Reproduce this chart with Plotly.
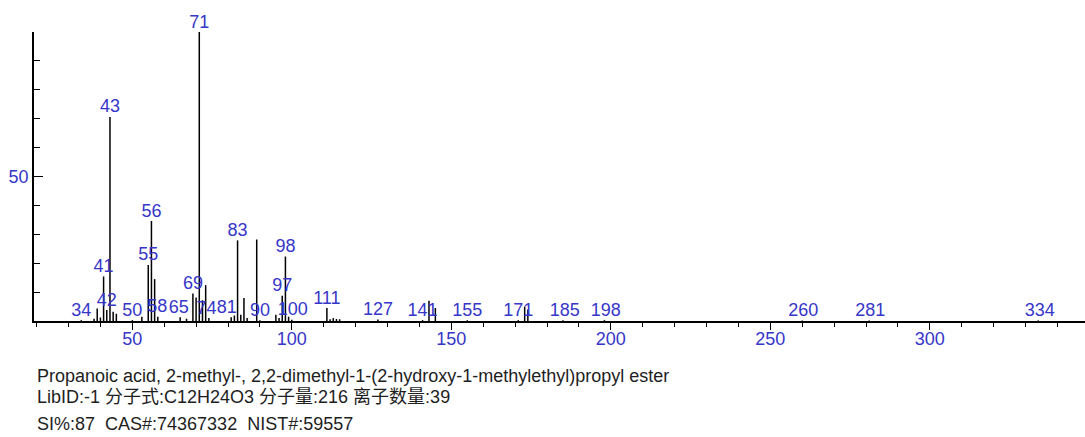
import plotly.graph_objects as go

# m/z values and relative intensities (%)
mz = [38, 39, 40, 41, 42, 43, 44, 45,
      50, 53, 55, 56, 57, 58, 65, 67,
      69, 70, 71, 72, 73, 74,
      81, 82, 83, 84, 85, 86, 89, 90,
      95, 96, 97, 98, 99, 100,
      111, 112, 113, 114, 115, 127,
      141, 143, 145, 155, 171, 173, 174,
      185, 198, 260, 281, 334, 34]
intensity = [0.8, 4.3, 1.2, 15.4, 3.8, 70.6, 3.2, 2.5,
             0.3, 1.5, 19.4, 34.6, 14.5, 1.5, 1.3, 0.8,
             9.5, 8.1, 100, 7.2, 12.4, 1.0,
             1.3, 1.9, 27.9, 2.2, 8.0, 1.0, 28.2, 0.3,
             2.2, 1.0, 8.7, 22.3, 1.5, 0.4,
             4.5, 0.6, 1.0, 0.7, 0.6, 0.5,
             0.3, 7.0, 4.5, 0.3, 0.3, 5.0, 4.0,
             0.3, 0.3, 0.2, 0.2, 0.2, 0.3]

# peak labels: text, x position of the text (m/z), peak m/z it sits on
label_text = ["34", "41", "42", "43", "50", "55", "56", "58", "65", "69", "71",
              "74", "81", "83", "90", "97", "98", "100", "111", "127", "141",
              "155", "171", "185", "198", "260", "281", "334"]
label_x = [34, 41, 42, 43, 50, 55, 56, 57.8, 64.6, 69, 71,
           73.3, 79.6, 83, 90, 97, 98, 100.3, 111, 127, 141,
           155, 171, 185.6, 198.4, 260.3, 281.3, 334.5]
label_peak = [34, 41, 42, 43, 50, 55, 56, 58, 65, 69, 71,
              74, 81, 83, 90, 97, 98, 100, 111, 127, 141,
              155, 171, 185, 198, 260, 281, 334]

x_ticks = [50, 100, 150, 200, 250, 300]
y_ticks = [50]

info_lines = [
    "Propanoic acid, 2-methyl-, 2,2-dimethyl-1-(2-hydroxy-1-methylethyl)propyl ester",
    "LibID:-1 分子式:C12H24O3 分子量:216 离子数量:39",
    "SI%:87  CAS#:74367332  NIST#:59557",
]

BLUE = "#3636c8"
FONT = "Liberation Sans, Arial, Noto Sans CJK SC, sans-serif"

lookup = dict(zip(mz, intensity))
seg_x, seg_y = [], []
for m, v in zip(mz, intensity):
    seg_x += [m, m, None]
    seg_y += [0, v, None]

fig = go.Figure()
fig.add_trace(go.Scatter(x=seg_x, y=seg_y, mode="lines",
                         line=dict(color="black", width=1.5),
                         hoverinfo="skip", showlegend=False))
fig.add_trace(go.Scatter(x=label_x, y=[lookup.get(p, 0.3) for p in label_peak],
                         mode="text", text=label_text, textposition="top center",
                         textfont=dict(color=BLUE, size=18, family=FONT),
                         cliponaxis=False, showlegend=False, hoverinfo="skip"))

W, H = 1085, 437
ml, mr, mt, mb = 34, 0, 32, 116
fig.update_layout(
    width=W, height=H, margin=dict(l=ml, r=mr, t=mt, b=mb),
    paper_bgcolor="white", plot_bgcolor="white",
    font=dict(family=FONT, color=BLUE, size=18),
    xaxis=dict(range=[(ml + 27.2) / 3.19, (W + 27.2) / 3.19], automargin=False,
               tickvals=x_ticks, ticks="outside", ticklen=7, tickwidth=1.2,
               tickcolor="black", showline=True, linecolor="black", linewidth=1.5,
               showgrid=False, zeroline=False, ticklabelstandoff=-6,
               tickfont=dict(color=BLUE, size=18, family=FONT),
               minor=dict(dtick=10, tick0=0, ticks="outside", ticklen=4,
                          tickcolor="black", tickwidth=1.2, showgrid=False)),
    yaxis=dict(range=[0, 100], tickvals=y_ticks, ticks="inside", ticklen=9,
               automargin=False,
               tickwidth=1.2, tickcolor="black", showline=True, linecolor="black",
               linewidth=1.5, showgrid=False, zeroline=False,
               tickfont=dict(color=BLUE, size=18, family=FONT),
               minor=dict(dtick=10, tick0=0, ticks="inside", ticklen=6,
                          tickcolor="black", tickwidth=1.2, showgrid=False)),
)

plot_h = H - mt - mb
for line, ypix in zip(info_lines, [376, 397, 424]):
    fig.add_annotation(text=line, xref="paper", yref="paper",
                       x=(35 - ml) / (W - ml - mr), y=(H - mb - ypix) / plot_h,
                       xanchor="left", yanchor="middle", showarrow=False,
                       font=dict(color="#1e1e1e", size=18, family=FONT))

fig.write_html("out.html", config={"displayModeBar": False},
               post_script="document.body.style.margin='0';document.body.style.padding='0';")
